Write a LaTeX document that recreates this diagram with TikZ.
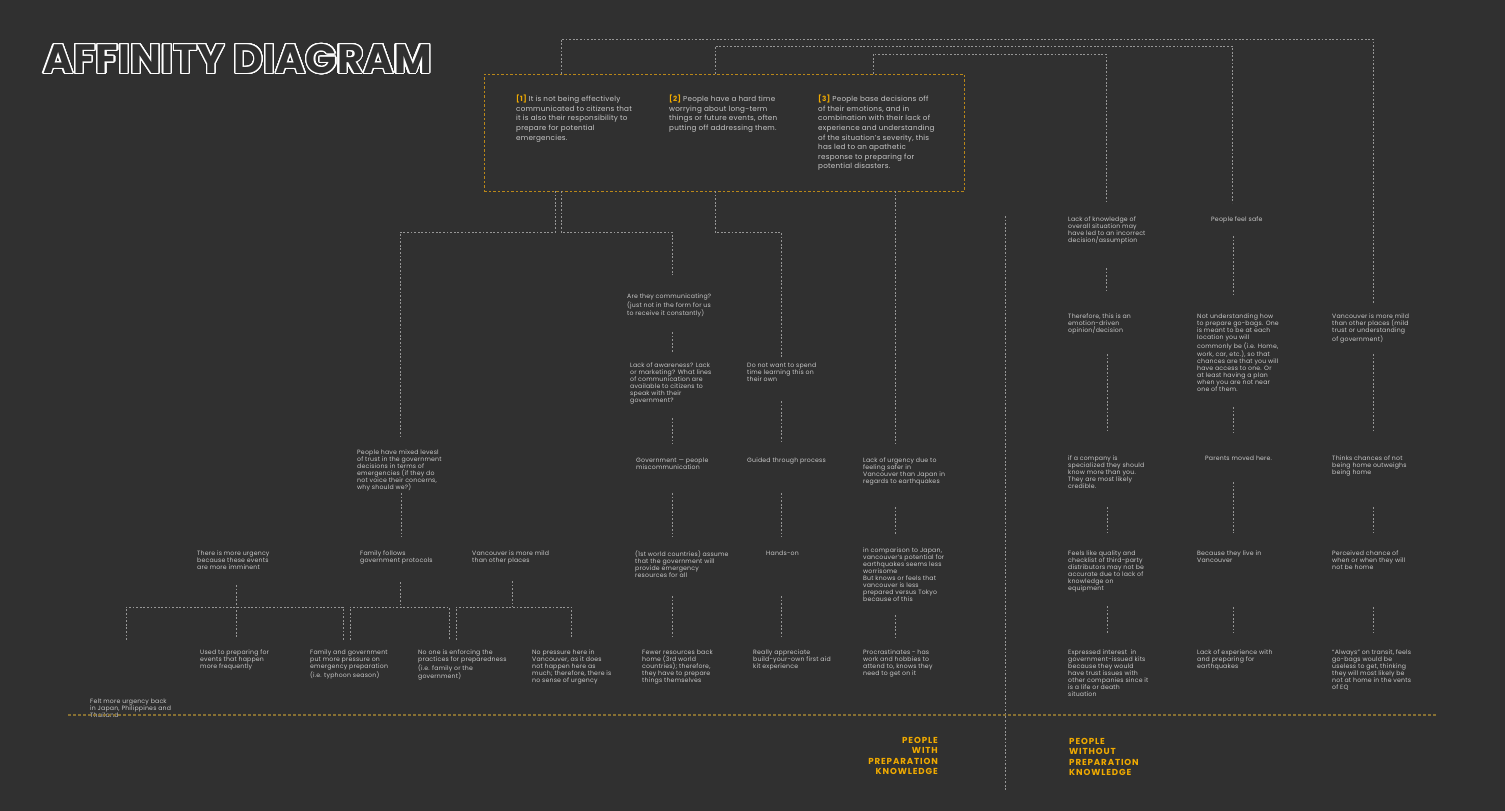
\documentclass[tikz,border=0pt]{standalone}
\usepackage{fontspec}
\usepackage{contour}
\setmainfont[LetterSpace=3.0]{Poppins}
\newfontfamily\titlefont{Poppins Bold}
\newfontfamily\labfont[LetterSpace=10.0]{Poppins}
\definecolor{bgc}{RGB}{48,48,48}
\definecolor{txtc}{RGB}{200,200,200}
\definecolor{linec}{RGB}{150,150,150}
\definecolor{orc}{RGB}{240,170,0}
\definecolor{boxc}{RGB}{185,135,25}
\definecolor{basec}{RGB}{135,112,50}
\newcommand{\smallf}{\fontsize{6.2}{7}\selectfont}
\newcommand{\bigf}{\fontsize{7.2}{9.6}\selectfont}
\newcommand{\onum}[1]{{\color{orc}\bfseries #1}}
\contourlength{1.2pt}
\contournumber{32}
\tikzset{
  txt/.style={anchor=north west, inner sep=0pt, align=left, text=txtc, font=\smallf},
  txtb/.style={anchor=north west, inner sep=0pt, align=left, text=txtc, font=\bigf},
  dl/.style={draw=linec, line width=0.9pt, dash pattern=on 1.8pt off 1.8pt},
  obox/.style={draw=boxc, line width=0.9pt, dash pattern=on 2.5pt off 2pt, inner sep=0pt, anchor=north west},
  baseln/.style={draw=basec, line width=1.2pt, dash pattern=on 2.5pt off 2.5pt},
  lab/.style={inner sep=0pt, text=orc, font=\labfont\bfseries\fontsize{8.7}{10.4}\selectfont, anchor=north west, align=left},
}
\begin{document}
\begin{tikzpicture}[x=1pt,y=-1pt]
\fill[bgc] (0,0) rectangle (1505,811);
\useasboundingbox (0,0) rectangle (1505,811);

% title
\node[anchor=north west, inner sep=0pt] (title) at (43,44) {\titlefont\fontsize{41}{43}\selectfont\contour{white}{\color{bgc}AFFINITY DIAGRAM}};

% top box
\node[obox, minimum width=480pt, minimum height=117pt] (box) at (484,74) {};
\node[txtb] (b1) at (516,95) {\onum{[1]} It is not being effectively\\communicated to citizens that\\it is also their responsibility to\\prepare for potential\\emergencies.};
\node[txtb] (b2) at (669,95) {\onum{[2]} People have a hard time\\worrying about long-term\\things or future events, often\\putting off addressing them.};
\node[txtb] (b3) at (818,95) {\onum{[3]} People base decisions off\\of their emotions, and in\\combination with their lack of\\experience and understanding\\of the situation's severity, this\\has led to an apathetic\\response to preparing for\\potential disasters.};

% top connectors to right columns
\draw[dl] (561,74) -- (561,39) -- (1373,39) -- (1373,303);
\draw[dl] (715,74) -- (715,46) -- (1232,46) -- (1232,203);
\draw[dl] (873,74) -- (873,54) -- (1106,54) -- (1106,203);

% below box
\draw[dl] (555,191) -- (555,232) -- (400,232) -- (400,437);
\draw[dl] (561,191) -- (561,232) -- (672,232) -- (672,275);
\draw[dl] (715,191) -- (715,232) -- (781,232) -- (781,358);
\draw[dl] (895,191) -- (895,444);

% left group
\node[txt] (mixed) at (357,450) {People have mixed levesl\\of trust in the government\\decisions in terms of\\emergencies (if they do\\not voice their concerns,\\why should we?)};
\draw[dl] (401,493) -- (401,537);
\node[txt] (urg) at (197,551) {There is more urgency\\because these events\\are more imminent};
\node[txt] (fam) at (360,551) {Family follows\\government protocols};
\node[txt] (van1) at (472,551) {Vancouver is more mild\\than other places};
\draw[dl] (236,585) -- (236,637);
\draw[dl] (400,582) -- (400,607);
\draw[dl] (512,581) -- (512,607);
\draw[dl] (126,640) -- (126,607) -- (343,607) -- (343,640);
\draw[dl] (350,640) -- (350,607) -- (449,607) -- (449,640);
\draw[dl] (456,640) -- (456,607) -- (571,607) -- (571,638);
\node[txt] (used) at (200,650) {Used to preparing for\\events that happen\\more frequently};
\node[txt] (famgov) at (310,650) {Family and government\\put more pressure on\\emergency preparation\\(i.e. typhoon season)};
\node[txt] (noone) at (418,650) {No one is enforcing the\\practices for preparedness\\(i.e. family or the\\government)};
\node[txt] (nopress) at (532,650) {No pressure here in\\Vancouver, as it does\\not happen here as\\much; therefore, there is\\no sense of urgency};
\node[txt] (felt) at (90,699) {Felt more urgency back\\in Japan, Philippines and\\Thailand};

% middle column x=672
\node[txt] (comm) at (627,294) {Are they communicating?\\(just not in the form for us\\to receive it constantly)};
\draw[dl] (672,332) -- (672,353);
\node[txt] (aware) at (630,363) {Lack of awareness? Lack\\or marketing? What lines\\of communication are\\available to citizens to\\speak with their\\government?};
\draw[dl] (672,418) -- (672,444);
\node[txt] (govpeople) at (636,458) {Government --- people\\miscommunication};
\draw[dl] (672,493) -- (672,537);
\node[txt] (first) at (635,551) {(1st world countries) assume\\that the government will\\provide emergency\\resources for all};
\draw[dl] (672,596) -- (672,638);
\node[txt] (fewer) at (642,650) {Fewer resources back\\home (3rd world\\countries); therefore,\\they have to prepare\\things themselves};

% column x=781
\node[txt] (dnw) at (747,363) {Do not want to spend\\time learning this on\\their own};
\draw[dl] (781,401) -- (781,444);
\node[txt] (guided) at (747,458) {Guided through process};
\draw[dl] (781,493) -- (781,537);
\node[txt] (hands) at (766,551) {Hands-on};
\draw[dl] (781,596) -- (781,638);
\node[txt] (really) at (753,650) {Really appreciate\\build-your-own first aid\\kit experience};

% column x=895
\node[txt] (lou) at (863,458) {Lack of urgency due to\\feeling safer in\\Vancouver than Japan in\\regards to earthquakes};
\draw[dl] (895,507) -- (895,535);
\node[txt] (incomp) at (863,548) {in comparison to Japan,\\vancouver's potential for\\earthquakes seems less\\worrisome\\But knows or feels that\\vancouver is less\\prepared versus Tokyo\\because of this};
\draw[dl] (895,615) -- (895,638);
\node[txt] (procr) at (863,650) {Procrastinates - has\\work and hobbies to\\attend to, knows they\\need to get on it};

% divider
\draw[dl] (1005,216) -- (1005,790);

% right column 1 x=1106
\node[txt] (lok) at (1068,217) {Lack of knowledge of\\overall situation may\\have led to an incorrect\\decision/assumption};
\draw[dl] (1106,268) -- (1106,293);
\node[txt] (there) at (1068,314) {Therefore, this is an\\emotion-driven\\opinion/decision};
\draw[dl] (1107,354) -- (1107,432);
\node[txt] (ifco) at (1068,456) {if a company is\\specialized they should\\know more than you.\\They are most likely\\credible.};
\draw[dl] (1107,507) -- (1107,533);
\node[txt] (feels) at (1068,551) {Feels like quality and\\checklist of third-party\\distributors may not be\\accurate due to lack of\\knowledge on\\equipment};
\draw[dl] (1107,606) -- (1107,633);
\node[txt] (expr) at (1068,650) {Expressed interest\ \ in\\government-issued kits\\because they would\\have trust issues with\\other companies since it\\is a life or death\\situation};

% right column 2 x=1232
\node[txt] (safe) at (1211,217) {People feel safe};
\draw[dl] (1233,236) -- (1233,295);
\node[txt] (notund) at (1197,314) {Not understanding how\\to prepare go-bags. One\\is meant to be at each\\location you will\\commonly be (i.e. Home,\\work, car, etc.), so that\\chances are that you will\\have access to one. Or\\at least having a plan\\when you are not near\\one of them.};
\draw[dl] (1233,407) -- (1233,433);
\node[txt] (parents) at (1205,456) {Parents moved here.};
\draw[dl] (1233,482) -- (1233,533);
\node[txt] (because) at (1197,551) {Because they live in\\Vancouver};
\draw[dl] (1233,607) -- (1233,633);
\node[txt] (lackexp) at (1197,650) {Lack of experience with\\and preparing for\\earthquakes};

% right column 3 x=1373
\node[txt] (van2) at (1332,314) {Vancouver is more mild\\than other places (mild\\trust or understanding\\of government)};
\draw[dl] (1373,354) -- (1373,433);
\node[txt] (thinks) at (1332,456) {Thinks chances of not\\being home outweighs\\being home};
\draw[dl] (1373,507) -- (1373,533);
\node[txt] (perc) at (1332,551) {Perceived chance of\\when or when they will\\not be home};
\draw[dl] (1373,607) -- (1373,633);
\node[txt] (always) at (1332,650) {``Always'' on transit, feels\\go-bags would be\\useless to get, thinking\\they will most likely be\\not at home in the vents\\of EQ};

% base line
\draw[baseln] (68,715) -- (1437,715);

% labels
\node[lab, anchor=north east, align=right] (with) at (938,737) {PEOPLE\\WITH\\PREPARATION\\KNOWLEDGE};
\node[lab] (without) at (1069,738) {PEOPLE\\WITHOUT\\PREPARATION\\KNOWLEDGE};
\end{tikzpicture}
\end{document}
